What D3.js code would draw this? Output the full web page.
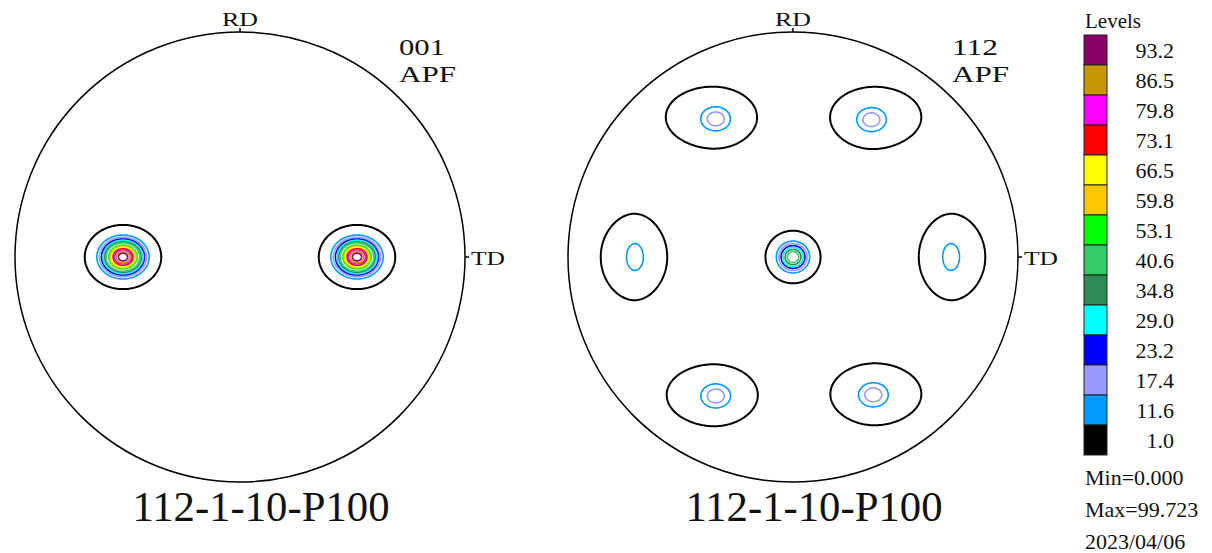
<!DOCTYPE html>
<html>
<head>
<meta charset="utf-8">
<script src="https://cdn.jsdelivr.net/npm/d3@7/dist/d3.min.js"></script>
<style>
  body { margin: 0; background: #fff; }
  svg { display: block; }
  text { font-family: "Liberation Serif", "Times New Roman", serif; fill: #111; }
</style>
</head>
<body>
<svg id="chart" width="1212" height="553"></svg>
<script>
// contour levels (legend, bottom to top) and their colours
var levels = [1.0, 11.6, 17.4, 23.2, 29.0, 34.8, 40.6, 53.1, 59.8, 66.5, 73.1, 79.8, 86.5, 93.2];
var levelColors = ["#000000", "#0099ff", "#9999ff", "#0000ff", "#00ffff", "#2e8b57", "#33cc66",
                   "#00ff00", "#ffc800", "#ffff00", "#ff0000", "#ff00ff", "#c89600", "#880066"];
var levelLabels = ["1.0", "11.6", "17.4", "23.2", "29.0", "34.8", "40.6", "53.1", "59.8", "66.5", "73.1", "79.8", "86.5", "93.2"];

// pole components: [x, y, peak, spreadX, spreadY] in unit-circle coords (TD right, RD up)
var poles001 = [
  [-0.52, 0.00, 99.7, 0.056, 0.047],
  [ 0.52, 0.00, 99.7, 0.056, 0.047]
];
var poles112 = [
  [ 0.000,  0.000, 48.0, 0.044, 0.042],
  [-0.342,  0.613, 17.0, 0.053, 0.044], [-0.364,  0.622, 4.5, 0.116, 0.076],
  [ 0.347,  0.609, 17.0, 0.053, 0.044], [ 0.369,  0.622, 4.5, 0.116, 0.076],
  [-0.342, -0.618, 17.0, 0.053, 0.044], [-0.360, -0.613, 4.5, 0.116, 0.076],
  [ 0.356, -0.613, 17.0, 0.053, 0.044], [ 0.369, -0.609, 4.5, 0.116, 0.076],
  [-0.702,  0.000, 11.0, 0.040, 0.067], [-0.707,  0.000, 5.0, 0.082, 0.101],
  [ 0.702,  0.000, 11.0, 0.040, 0.067], [ 0.707,  0.000, 5.0, 0.082, 0.101]
];

var sampleName = "112-1-10-P100";
var statLines = ["Min=0.000", "Max=99.723", "2023/04/06"];

var svg = d3.select("#chart");
var R = 225;
var n = 450;

function drawPoleFigure(cx, cy, poles, hkl) {
  var g = svg.append("g");
  var x = d3.scaleLinear().domain([-1, 1]).range([cx - R, cx + R]);
  var y = d3.scaleLinear().domain([-1, 1]).range([cy + R, cy - R]);

  // intensity grid
  var values = new Float64Array(n * n);
  for (var j = 0; j < n; j++) {
    var py = 1 - 2 * (j + 0.5) / n;
    for (var i = 0; i < n; i++) {
      var px = -1 + 2 * (i + 0.5) / n;
      var v = 0;
      for (var k = 0; k < poles.length; k++) {
        var p = poles[k];
        var dx = (px - p[0]) / p[3], dy = (py - p[1]) / p[4];
        v += p[2] * Math.exp(-0.5 * (dx * dx + dy * dy));
      }
      values[j * n + i] = v;
    }
  }

  var contours = d3.contours().size([n, n]).thresholds(levels)(values);
  var path = d3.geoPath(d3.geoTransform({
    point: function(gx, gy) {
      this.stream.point(x(-1 + 2 * gx / n), y(1 - 2 * gy / n));
    }
  }));

  g.selectAll("path.level")
    .data(contours)
    .enter()
    .append("path")
    .attr("class", "level")
    .attr("d", path)
    .attr("fill", "none")
    .attr("stroke", function(d) { return levelColors[levels.indexOf(d.value)]; })
    .attr("stroke-width", function(d) { return d.value === levels[0] ? 2 : 1.6; })
    .attr("stroke-linejoin", "round");

  // outer circle
  g.append("circle")
    .attr("cx", x(0)).attr("cy", y(0)).attr("r", R)
    .attr("fill", "none").attr("stroke", "#000").attr("stroke-width", 1.5);

  // RD / TD ticks
  g.append("line")
    .attr("x1", x(0)).attr("x2", x(0)).attr("y1", y(1)).attr("y2", y(1) - 4)
    .attr("stroke", "#000").attr("stroke-width", 1.5);
  g.append("line")
    .attr("x1", x(1)).attr("x2", x(1) + 4).attr("y1", y(0)).attr("y2", y(0))
    .attr("stroke", "#000").attr("stroke-width", 1.5);

  g.append("text").attr("x", x(0)).attr("y", 26)
    .attr("text-anchor", "middle").style("font-size", "19px")
    .attr("textLength", 36).attr("lengthAdjust", "spacingAndGlyphs")
    .text("RD");
  g.append("text").attr("x", x(1) + 6).attr("y", y(0) + 8)
    .style("font-size", "19px")
    .attr("textLength", 34).attr("lengthAdjust", "spacingAndGlyphs")
    .text("TD");

  g.append("text").attr("x", x(0) + 159).attr("y", 55)
    .style("font-size", "24px")
    .attr("textLength", 46).attr("lengthAdjust", "spacingAndGlyphs")
    .text(hkl);
  g.append("text").attr("x", x(0) + 159).attr("y", 82)
    .style("font-size", "24px")
    .attr("textLength", 57).attr("lengthAdjust", "spacingAndGlyphs")
    .text("APF");

  g.append("text").attr("x", x(0) + 21).attr("y", 521)
    .attr("text-anchor", "middle").style("font-size", "42px")
    .attr("textLength", 257).attr("lengthAdjust", "spacingAndGlyphs")
    .text(sampleName);
}

drawPoleFigure(240, 257, poles001, "001");
drawPoleFigure(793, 257, poles112, "112");

// legend
var legend = svg.append("g");
var boxTop = 35, boxH = 30;
var order = d3.range(levels.length).reverse();

legend.append("text").attr("x", 1085).attr("y", 28)
  .style("font-size", "21px").text("Levels");

legend.selectAll("rect")
  .data(order)
  .enter()
  .append("rect")
  .attr("x", 1084)
  .attr("y", function(d, i) { return boxTop + i * boxH; })
  .attr("width", 23)
  .attr("height", boxH)
  .attr("fill", function(d) { return levelColors[d]; })
  .attr("stroke", "#222")
  .attr("stroke-width", 1);

legend.selectAll("text.lab")
  .data(order)
  .enter()
  .append("text")
  .attr("class", "lab")
  .attr("x", 1174)
  .attr("y", function(d, i) { return boxTop + i * boxH + 23; })
  .attr("text-anchor", "end")
  .style("font-size", "22px")
  .text(function(d) { return levelLabels[d]; });

legend.selectAll("text.stat")
  .data(statLines)
  .enter()
  .append("text")
  .attr("class", "stat")
  .attr("x", 1085)
  .attr("y", function(d, i) { return 485 + i * 32; })
  .style("font-size", "22px")
  .text(function(d) { return d; });
</script>
</body>
</html>
